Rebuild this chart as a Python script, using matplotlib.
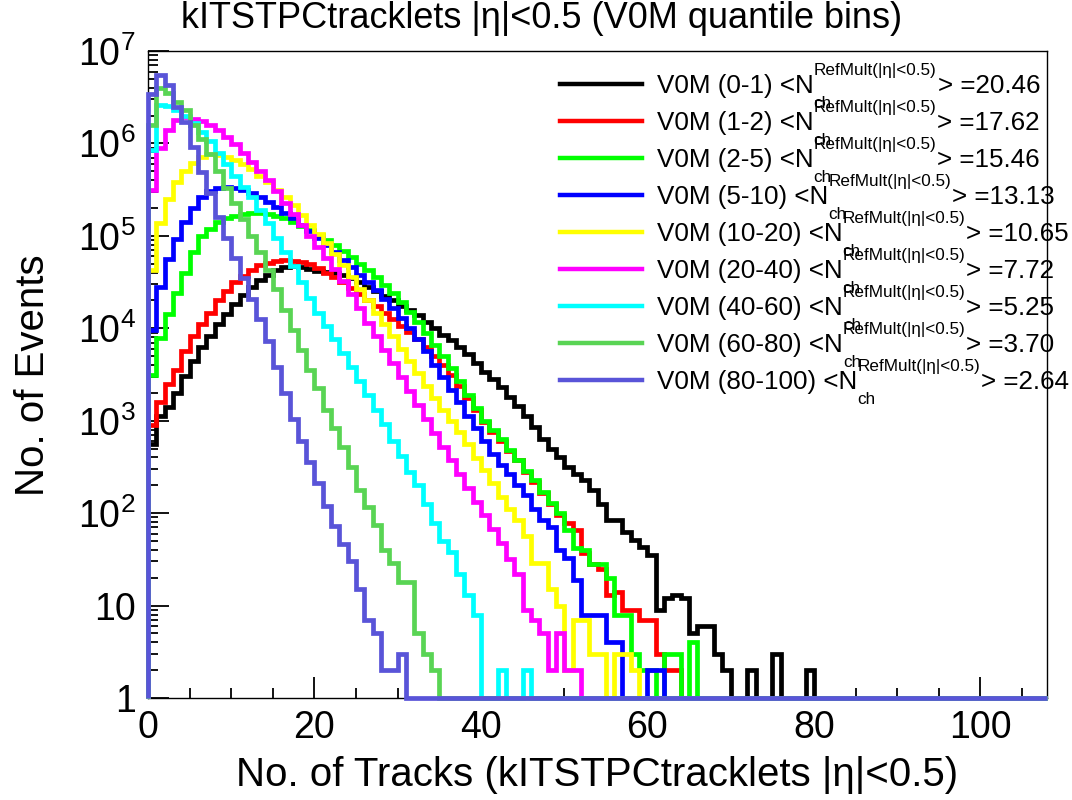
import numpy as np
import matplotlib
matplotlib.use("Agg")
import matplotlib.pyplot as plt
from matplotlib.lines import Line2D
from matplotlib.ticker import MultipleLocator, FixedLocator, FixedFormatter, NullFormatter

plt.rcParams["font.family"] = ["Liberation Sans", "DejaVu Sans"]
plt.rcParams["mathtext.fontset"] = "custom"
plt.rcParams["mathtext.rm"] = "Liberation Sans"
plt.rcParams["mathtext.it"] = "Liberation Sans:italic"
plt.rcParams["mathtext.bf"] = "Liberation Sans:bold"

# ROOT palette, colours 1..9
COLORS = ["#000000", "#ff0000", "#00ff00", "#0000ff", "#ffff00",
          "#ff00ff", "#00ffff", "#59d454", "#5954d8"]

NBINS = 108
XMAX = 108

CLASSES = ["0-1", "1-2", "2-5", "5-10", "10-20", "20-40", "40-60", "60-80", "80-100"]
MEAN_NCH = ["20.46", "17.62", "15.46", "13.13", "10.65", "7.72", "5.25", "3.70", "2.64"]

# event counts per track multiplicity bin (bin 0 = zero tracks)
v0m_0_1 = [560, 1120, 1410, 2000, 3020, 4470, 6310, 8320, 11200, 14100,
           18200, 22900, 28200, 33100, 38000, 42700, 45700, 46800, 45700, 43600,
           41700, 40700, 39800, 38000, 34700, 31600, 28200, 25100, 22400, 20000,
           17400, 15800, 13800, 11700, 10000, 8510, 7410, 6310, 5250, 4170,
           3390, 2820, 2290, 1820, 1450, 1120, 850, 630, 500, 400,
           316, 263, 229, 178, 126, 85, 85, 62, 51, 43,
           35, 9, 12, 13, 12, 5, 6, 6, 3, 2,
           0, 0, 2, 0, 0, 3, 0, 0, 0, 2]
v0m_1_2 = [890, 1580, 2510, 3550, 5620, 8320, 11200, 14800, 20000, 25100,
           31600, 37200, 42700, 47900, 51300, 53700, 55000, 53700, 52500, 50100,
           44700, 39800, 35500, 31600, 27500, 23400, 20000, 17400, 14800, 12600,
           10700, 9120, 7590, 6310, 5010, 3980, 3160, 2400, 1780, 1320,
           977, 759, 603, 468, 372, 282, 219, 166, 126, 95,
           79, 66, 37, 28, 25, 13, 14, 9, 9, 7,
           7, 3, 2, 2]
v0m_2_5 = [3160, 7940, 14100, 24000, 39800, 66100, 100000, 120000, 141000, 155000,
           166000, 174000, 178000, 178000, 174000, 166000, 155000, 141000, 129000, 115000,
           102000, 91200, 79400, 69200, 58900, 50100, 42700, 35500, 29500, 24000,
           19100, 15100, 11700, 8910, 6610, 5010, 3720, 2690, 1910, 1380,
           1000, 794, 631, 479, 380, 288, 229, 170, 129, 100,
           65, 42, 40, 28, 28, 20, 8, 8, 3, 2,
           2, 0, 3, 3, 0, 4]
v0m_5_10 = [9550, 28200, 56200, 93300, 141000, 200000, 263000, 302000, 331000, 339000,
            331000, 316000, 288000, 263000, 234000, 204000, 178000, 155000, 132000, 112000,
            95500, 79400, 66100, 55000, 45700, 38000, 31600, 25700, 20900, 16600,
            12900, 10000, 7590, 5620, 3980, 2950, 2140, 1580, 1120, 832,
            603, 437, 331, 263, 200, 158, 112, 85, 70, 40,
            33, 19, 8, 8, 8, 4, 4, 0, 0, 1,
            2, 2]
v0m_10_20 = [42700, 138000, 251000, 380000, 501000, 617000, 708000, 759000, 741000, 708000,
             661000, 603000, 525000, 447000, 380000, 316000, 263000, 214000, 170000, 132000,
             105000, 83200, 63100, 47900, 36300, 26900, 20000, 14800, 11200, 8320,
             6030, 4470, 3310, 2400, 1780, 1320, 1000, 759, 562, 398,
             295, 214, 151, 112, 85, 56, 29, 29, 15, 10,
             2, 7, 7, 3, 3, 1, 3, 3, 2]
v0m_20_40 = [316000, 891000, 1410000, 1780000, 1910000, 1860000, 1740000, 1580000, 1380000, 1170000,
             977000, 794000, 631000, 501000, 398000, 302000, 229000, 174000, 132000, 100000,
             75900, 57500, 43600, 32400, 23400, 16600, 11500, 8320, 5890, 4170,
             2950, 2090, 1480, 1050, 741, 525, 372, 263, 186, 132,
             95, 68, 48, 32, 22, 9, 7, 5, 2, 5,
             2, 2]
v0m_40_60 = [851000, 2630000, 2510000, 2290000, 2000000, 1660000, 1320000, 1050000, 794000, 603000,
             447000, 339000, 263000, 191000, 138000, 95500, 67600, 46800, 31600, 21400,
             14800, 10500, 7590, 5370, 3800, 2690, 1910, 1320, 912, 603,
             417, 282, 200, 126, 79, 50, 38, 22, 13, 8,
             0, 0, 2, 0, 0, 2]
v0m_60_80 = [1580000, 3980000, 3550000, 2820000, 2290000, 1580000, 1120000, 759000, 501000, 331000,
             229000, 151000, 100000, 66100, 42700, 26300, 15800, 9550, 5750, 3550,
             2240, 1320, 832, 525, 316, 178, 117, 74, 40, 29,
             18, 18, 5, 3, 2]
v0m_80_100 = [3400000, 5500000, 4300000, 2500000, 1700000, 910000, 490000, 290000, 160000, 95000,
              58000, 35000, 21000, 12600, 7200, 3800, 2000, 1050, 600, 355,
              210, 120, 72, 46, 30, 15, 7, 5, 2, 2,
              3]

SERIES = [v0m_0_1, v0m_1_2, v0m_2_5, v0m_5_10, v0m_10_20,
          v0m_20_40, v0m_40_60, v0m_60_80, v0m_80_100]


def padded(vals):
    out = np.zeros(NBINS)
    out[:len(vals)] = vals
    return out


fig = plt.figure(figsize=(10.72, 8.0), dpi=100)
W, H = 1072.0, 800.0
ax = fig.add_axes([148 / W, 1 - 698 / H, (1047 - 148) / W, (698 - 51) / H])

edges = np.arange(NBINS + 1)
for i, vals in enumerate(SERIES):
    counts = padded(vals)
    # empty bins sit on the bottom of the log axis, as ROOT draws them
    shown = np.where(counts > 0, counts, 1.0)
    ax.stairs(shown, edges, baseline=1.0, color=COLORS[i], lw=3.4,
              zorder=3 + i, clip_on=False)

ax.set_yscale("log")
ax.set_xlim(0, XMAX)
ax.set_ylim(1, 1e7)

ax.xaxis.set_major_locator(MultipleLocator(20))
ax.xaxis.set_minor_locator(MultipleLocator(5))
decades = [10.0 ** k for k in range(8)]
ax.yaxis.set_major_locator(FixedLocator(decades))
ax.yaxis.set_major_formatter(FixedFormatter(
    ["1", "10"] + [r"$\mathregular{10^{%d}}$" % k for k in range(2, 8)]))
minors = [m * 10.0 ** k for k in range(7) for m in range(2, 10)]
ax.yaxis.set_minor_locator(FixedLocator(minors))
ax.yaxis.set_minor_formatter(NullFormatter())

ax.tick_params(which="both", direction="in", top=False, right=False,
               width=1.3, colors="black", labelsize=27, pad=9)
ax.tick_params(which="major", length=15)
ax.tick_params(which="minor", length=7.5)
for sp in ax.spines.values():
    sp.set_linewidth(1.0)
    sp.set_zorder(2)

ax.set_xlabel("No. of Tracks (kITSTPCtracklets |η|<0.5)", fontsize=29)
ax.xaxis.set_label_coords(0.5, -0.09)
fig.text(33 / W, 1 - 375 / H, "No. of Events", fontsize=29, rotation=90,
         ha="center", va="center")

fig.text(542 / W, 1 - 18 / H, "kITSTPCtracklets |η|<0.5 (V0M quantile bins)",
         fontsize=26, ha="center", va="center")

# legend drawn by hand, ROOT style: N with "ch" below and the
# RefMult selection above, each piece placed after the previous one
renderer = fig.canvas.get_renderer()
for i, (cls, mean) in enumerate(zip(CLASSES, MEAN_NCH)):
    row = 84 + 37 * i
    fig.add_artist(Line2D([560 / W, 642 / W], [1 - row / H, 1 - row / H],
                          color=COLORS[i], lw=3.2, transform=fig.transFigure))
    base = 1 - (row + 9) / H
    head = fig.text(657 / W, base, "V0M (%s) <N" % cls, fontsize=18.7,
                    ha="left", va="baseline")
    x_n = head.get_window_extent(renderer).x1 / W
    sup = fig.text(x_n, base + 18 / H, "RefMult(|η|<0.5)", fontsize=12.3,
                   ha="left", va="baseline")
    fig.text(x_n, base - 15 / H, "ch", fontsize=12.3, ha="left", va="baseline")
    x_sup = sup.get_window_extent(renderer).x1 / W
    fig.text(x_sup + 1 / W, base, "> =%s" % mean, fontsize=18.7,
             ha="left", va="baseline")

fig.savefig("out.png", dpi=100)
